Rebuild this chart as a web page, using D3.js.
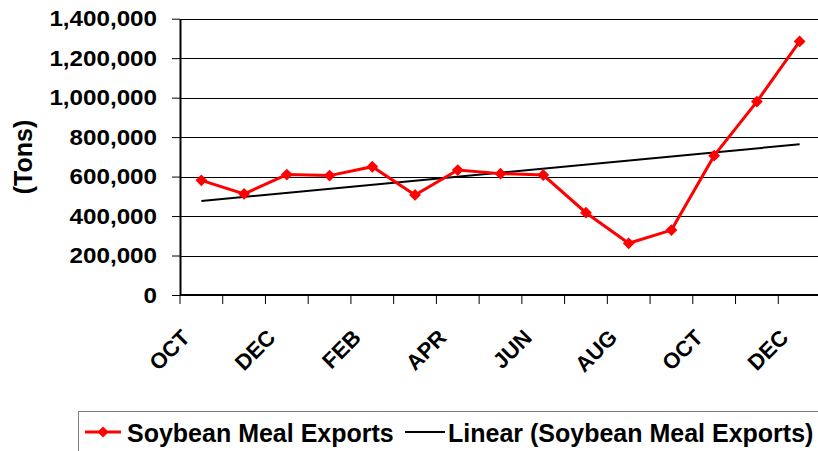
<!DOCTYPE html>
<html>
<head>
<meta charset="utf-8">
<script src="https://cdn.jsdelivr.net/npm/d3@7"></script>
<style>
  html, body { margin: 0; padding: 0; background: #fff; }
  svg text { font-family: "Liberation Sans", Arial, sans-serif; font-weight: bold; fill: #000; }
</style>
</head>
<body>
<div id="chart"></div>
<script>
// monthly soybean meal exports (tons), Oct .. Dec of the following year
const months = ["OCT","NOV","DEC","JAN","FEB","MAR","APR","MAY","JUN","JUL","AUG","SEP","OCT","NOV","DEC"];
const exportsTons = [581000, 512000, 610000, 605000, 650000, 507000, 633000, 615000, 608000, 417000, 262000, 329000, 706000, 980000, 1285000];
const yTicks = [0, 200000, 400000, 600000, 800000, 1000000, 1200000, 1400000];
const seriesName = "Soybean Meal Exports";
const trendName = "Linear (Soybean Meal Exports)";

(function() {
  const width = 818, height = 451;
  const plot = { left: 180, right: 821, top: 18.7, bottom: 295 };

  const svg = d3.select("#chart").append("svg")
    .attr("width", width)
    .attr("height", height);

  const idx = d3.range(months.length);
  const x = d3.scaleBand().domain(idx).range([plot.left, plot.right]);
  const y = d3.scaleLinear().domain([0, 1400000]).range([plot.bottom, plot.top]);
  const cx = i => x(i) + x.bandwidth() / 2;

  // horizontal gridlines
  svg.append("g")
    .selectAll("line")
    .data(yTicks.filter(d => d > 0))
    .join("line")
    .attr("x1", plot.left).attr("x2", plot.right)
    .attr("y1", d => Math.round(y(d)) + 0.5).attr("y2", d => Math.round(y(d)) + 0.5)
    .attr("stroke", "#000")
    .attr("stroke-width", 1);

  // y axis
  const yAxis = svg.append("g")
    .attr("transform", `translate(${plot.left},0)`)
    .call(d3.axisLeft(y).tickValues(yTicks).tickFormat(d3.format(",")).tickSize(8).tickSizeOuter(0));
  yAxis.select(".domain").attr("stroke", "#000").attr("stroke-width", 2);
  yAxis.selectAll(".tick line").attr("stroke", "#000");
  yAxis.selectAll(".tick text")
    .attr("x", 0)
    .attr("transform", "translate(-23,0) scale(1.1,1)")
    .style("font-size", "22px")
    .attr("fill", "#000");

  // x axis: ticks at category boundaries
  const edges = d3.range(months.length + 1).map(k => plot.left + k * x.bandwidth());
  const xAxis = svg.append("g");
  xAxis.append("line")
    .attr("x1", plot.left).attr("x2", plot.right)
    .attr("y1", plot.bottom).attr("y2", plot.bottom)
    .attr("stroke", "#000").attr("stroke-width", 2);
  xAxis.selectAll("line.tk")
    .data(edges)
    .join("line")
    .attr("class", "tk")
    .attr("x1", d => d).attr("x2", d => d)
    .attr("y1", plot.bottom).attr("y2", plot.bottom + 9)
    .attr("stroke", "#000");
  xAxis.selectAll("text")
    .data(idx.filter(i => i % 2 === 0))
    .join("text")
    .attr("transform", i => `translate(${cx(i) - 10},${plot.bottom + 44}) rotate(-45)`)
    .attr("text-anchor", "end")
    .style("font-size", "22px")
    .text(i => months[i]);

  // y axis title
  svg.append("text")
    .attr("transform", "translate(32,157) rotate(-90)")
    .attr("text-anchor", "middle")
    .style("font-size", "25px")
    .text("(Tons)");

  // linear trendline (least squares on the series)
  const n = exportsTons.length;
  const xm = d3.mean(idx), ym = d3.mean(exportsTons);
  const slope = d3.sum(idx, i => (i - xm) * (exportsTons[i] - ym)) / d3.sum(idx, i => (i - xm) * (i - xm));
  const intercept = ym - slope * xm;
  svg.append("line")
    .attr("x1", cx(0)).attr("y1", y(intercept))
    .attr("x2", cx(n - 1)).attr("y2", y(intercept + slope * (n - 1)))
    .attr("stroke", "#000")
    .attr("stroke-width", 2);

  // series line + diamond markers
  const line = d3.line().x(i => cx(i)).y(i => y(exportsTons[i]));
  svg.append("path")
    .datum(idx)
    .attr("d", line)
    .attr("fill", "none")
    .attr("stroke", "#ff0000")
    .attr("stroke-width", 3);

  svg.append("g")
    .selectAll("path")
    .data(idx)
    .join("path")
    .attr("transform", i => `translate(${cx(i)},${y(exportsTons[i])}) rotate(45)`)
    .attr("d", d3.symbol().type(d3.symbolSquare).size(70))
    .attr("fill", "#ff0000");

  // legend
  const legend = svg.append("g");
  legend.append("rect")
    .attr("x", 78.5).attr("y", 411.5)
    .attr("width", 800).attr("height", 100)
    .attr("fill", "#fff")
    .attr("stroke", "#808080");
  legend.append("line")
    .attr("x1", 85).attr("x2", 121).attr("y1", 432).attr("y2", 432)
    .attr("stroke", "#ff0000").attr("stroke-width", 3);
  legend.append("path")
    .attr("transform", "translate(103,432) rotate(45)")
    .attr("d", d3.symbol().type(d3.symbolSquare).size(60))
    .attr("fill", "#ff0000");
  legend.append("text")
    .attr("x", 127).attr("y", 442)
    .style("font-size", "25px")
    .text(seriesName);
  legend.append("line")
    .attr("x1", 405).attr("x2", 445).attr("y1", 432).attr("y2", 432)
    .attr("stroke", "#000").attr("stroke-width", 2);
  legend.append("text")
    .attr("x", 448).attr("y", 442)
    .style("font-size", "25px")
    .text(trendName);
})();
</script>
</body>
</html>
